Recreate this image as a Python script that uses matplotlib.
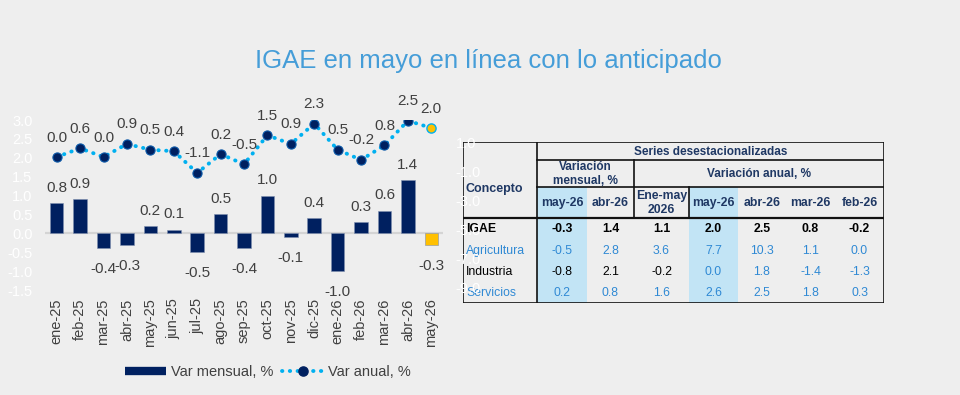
import matplotlib
matplotlib.use("Agg")
import matplotlib.pyplot as plt
from matplotlib.lines import Line2D
from matplotlib.patches import Rectangle

plt.rcParams['font.family'] = ['Liberation Sans', 'DejaVu Sans']

# ---------------- data ----------------
months = ['ene-25', 'feb-25', 'mar-25', 'abr-25', 'may-25', 'jun-25', 'jul-25',
          'ago-25', 'sep-25', 'oct-25', 'nov-25', 'dic-25', 'ene-26', 'feb-26',
          'mar-26', 'abr-26', 'may-26']
var_mensual = [0.8, 0.9, -0.4, -0.3, 0.2, 0.1, -0.5, 0.5, -0.4, 1.0, -0.1, 0.4,
               -1.0, 0.3, 0.6, 1.4, -0.3]
var_anual = [0.0, 0.6, 0.0, 0.9, 0.5, 0.4, -1.1, 0.2, -0.5, 1.5, 0.9, 2.3,
             0.5, -0.2, 0.8, 2.5, 2.0]

conceptos = ['IGAE', 'Agricultura', 'Industria', 'Servicios']
col_headers = ['may-26', 'abr-26', 'Ene-may\n2026', 'may-26', 'abr-26', 'mar-26', 'feb-26']
igae_row = [-0.3, 1.4, 1.1, 2.0, 2.5, 0.8, -0.2]
agricultura_row = [-0.5, 2.8, 3.6, 7.7, 10.3, 1.1, 0.0]
industria_row = [-0.8, 2.1, -0.2, 0.0, 1.8, -1.4, -1.3]
servicios_row = [0.2, 0.8, 1.6, 2.6, 2.5, 1.8, 0.3]

title = 'IGAE en mayo en línea con lo anticipado'

# ---------------- style ----------------
BG = '#eeeeee'
NAVY = '#002060'
YELLOW = '#ffc000'
CYAN = '#00b0f0'
GREY = '#404040'
TBLUE = '#2f89d4'
HNAVY = '#1f3864'
LIGHTBLUE = '#c2e4f5'

W, H = 960, 395
fig = plt.figure(figsize=(9.6, 3.95), dpi=100, facecolor=BG)

def fx(px):
    return px / W

def fy(py):
    return 1 - py / H

fig.text(fx(488), fy(61), title, ha='center', va='center', fontsize=18.5,
         color='#459dd8')

# ---------------- table (drawn first, below chart axes) ----------------
tx0, tx1, ty0, ty1 = 463, 884, 142, 303
tab = fig.add_axes([fx(tx0), fy(ty1), fx(tx1 - tx0), (ty1 - ty0) / H])
tab.set_zorder(1)
tab.set_xlim(tx0, tx1)
tab.set_ylim(ty1, ty0)
tab.axis('off')
tab.patch.set_alpha(0)

col_edges = [537, 587, 634, 689, 738, 786, 835, 884]
col_centers = [(col_edges[i] + col_edges[i + 1]) / 2 for i in range(7)]
highlight_cols = [0, 3]
for c in highlight_cols:
    tab.add_patch(Rectangle((col_edges[c], 187), col_edges[c + 1] - col_edges[c], 303 - 187,
                            facecolor=LIGHTBLUE, edgecolor='none', zorder=0))

lc = '#111111'
lw = 1.2
# horizontal lines
tab.plot([463, 884], [142, 142], color=lc, lw=lw)
tab.plot([537, 884], [160, 160], color=lc, lw=lw)
tab.plot([537, 884], [187, 187], color=lc, lw=lw)
tab.plot([463, 884], [218, 218], color=lc, lw=1.6)
tab.plot([463, 884], [303, 303], color=lc, lw=lw)
# vertical lines
tab.plot([463, 463], [142, 303], color=lc, lw=lw)
tab.plot([537, 537], [142, 303], color=lc, lw=lw)
tab.plot([884, 884], [142, 303], color=lc, lw=lw)
tab.plot([634, 634], [160, 218], color=lc, lw=lw)
tab.plot([689, 689], [187, 218], color=lc, lw=lw)

fs = 8.5
tab.text(710.5, 152, 'Series desestacionalizadas', ha='center', va='center',
         fontsize=fs, fontweight='bold', color=HNAVY)
tab.text(585.5, 174, 'Variación\nmensual, %', ha='center', va='center',
         fontsize=fs, fontweight='bold', color=HNAVY, linespacing=1.25)
tab.text(759, 174, 'Variación anual, %', ha='center', va='center',
         fontsize=fs, fontweight='bold', color=HNAVY)
tab.text(466, 189, 'Concepto', ha='left', va='center', fontsize=fs + 0.5,
         fontweight='bold', color=HNAVY)
for i, h in enumerate(col_headers):
    tab.text(col_centers[i], 203, h, ha='center', va='center', fontsize=fs + 0.3,
             fontweight='bold', color=HNAVY, linespacing=1.25)

rows = [igae_row, agricultura_row, industria_row, servicios_row]
row_y = [229, 251, 272, 293]
label_colors = ['black', TBLUE, 'black', TBLUE]
for r, (name, vals) in enumerate(zip(conceptos, rows)):
    bold = 'bold' if r == 0 else 'normal'
    tab.text(466, row_y[r], name, ha='left', va='center', fontsize=fs + 0.3,
             fontweight=bold, color=label_colors[r])
    for c, v in enumerate(vals):
        if r == 0:
            col = 'black'
        elif r == 2:
            col = 'black' if c < 3 else TBLUE
        else:
            col = TBLUE
        tab.text(col_centers[c], row_y[r], f'{v:.1f}', ha='center', va='center',
                 fontsize=fs + 0.3, fontweight=bold, color=col)

# ---------------- chart ----------------
ax = fig.add_axes([fx(45), fy(290), fx(443 - 45), (290 - 120) / H])
ax.set_zorder(2)
ax.patch.set_alpha(0)
x = list(range(len(months)))
bar_colors = [NAVY] * (len(months) - 1) + [YELLOW]
ax.bar(x, var_mensual, width=0.58, color=bar_colors, edgecolor='#8090b0',
       linewidth=0.4, zorder=3)
ax.axhline(0, color='#d4d4d4', lw=1.6, zorder=2)
ax.set_xlim(-0.5, len(months) - 0.5)
ax.set_ylim(-1.5, 3.0)
ax.set_yticks([-1.5, -1.0, -0.5, 0.0, 0.5, 1.0, 1.5, 2.0, 2.5, 3.0])
ax.yaxis.set_major_formatter(matplotlib.ticker.FormatStrFormatter('%.1f'))
ax.tick_params(axis='y', length=0, pad=9, labelsize=10.5, labelcolor='white')
ax.set_xticks(x)
ax.set_xticklabels(months, rotation=90, fontsize=10.5, color=GREY)
ax.tick_params(axis='x', length=0, pad=6)
for s in ax.spines.values():
    s.set_visible(False)

for xi, v in zip(x, var_mensual):
    off = 11 if v >= 0 else -15
    ax.annotate(f'{v:.1f}', (xi, v), xytext=(0, off), textcoords='offset points',
                ha='center', va='center', fontsize=11, color=GREY, zorder=5)

ax2 = ax.twinx()
ax2.set_zorder(3)
ax2.patch.set_alpha(0)
ax2.set_ylim(-9.17, 2.55)
ax2.set_yticks([-9, -7, -5, -3, -1, 1])
ax2.yaxis.set_major_formatter(matplotlib.ticker.FormatStrFormatter('%.1f'))
ax2.tick_params(axis='y', length=0, pad=9, labelsize=10.5, labelcolor='white')
for s in ax2.spines.values():
    s.set_visible(False)

ax2.plot(x, var_anual, color=CYAN, lw=2.8, dashes=(0.1, 1.9),
         dash_capstyle='round', zorder=3)
ax2.plot(x[:-1], var_anual[:-1], ls='none', marker='o', ms=6.6,
         mfc=NAVY, mec='#0a58a8', mew=0.8, zorder=4)
ax2.plot(x[-1:], var_anual[-1:], ls='none', marker='o', ms=6.6,
         mfc=YELLOW, mec=CYAN, mew=1.0, zorder=4)
for xi, v in zip(x, var_anual):
    ax2.annotate(f'{v:.1f}', (xi, v), xytext=(0, 14), textcoords='offset points',
                 ha='center', va='center', fontsize=11, color=GREY, zorder=5)

# ---------------- legend ----------------
h1 = Line2D([], [], color=NAVY, lw=6, solid_capstyle='butt')
h2 = Line2D([], [], color=CYAN, lw=2.8, dashes=(0.1, 1.9), dash_capstyle='round',
            marker='o', ms=6.6, mfc=NAVY, mec=NAVY)
fig.legend([h1, h2], ['Var mensual, %', 'Var anual, %'], loc='center',
           bbox_to_anchor=(fx(268), fy(372)), ncol=2, frameon=False,
           fontsize=10.5, labelcolor=GREY, handlelength=2.8, handletextpad=0.35,
           columnspacing=0.6, markerscale=1.0)

fig.savefig('out.png', dpi=100, facecolor=BG)
